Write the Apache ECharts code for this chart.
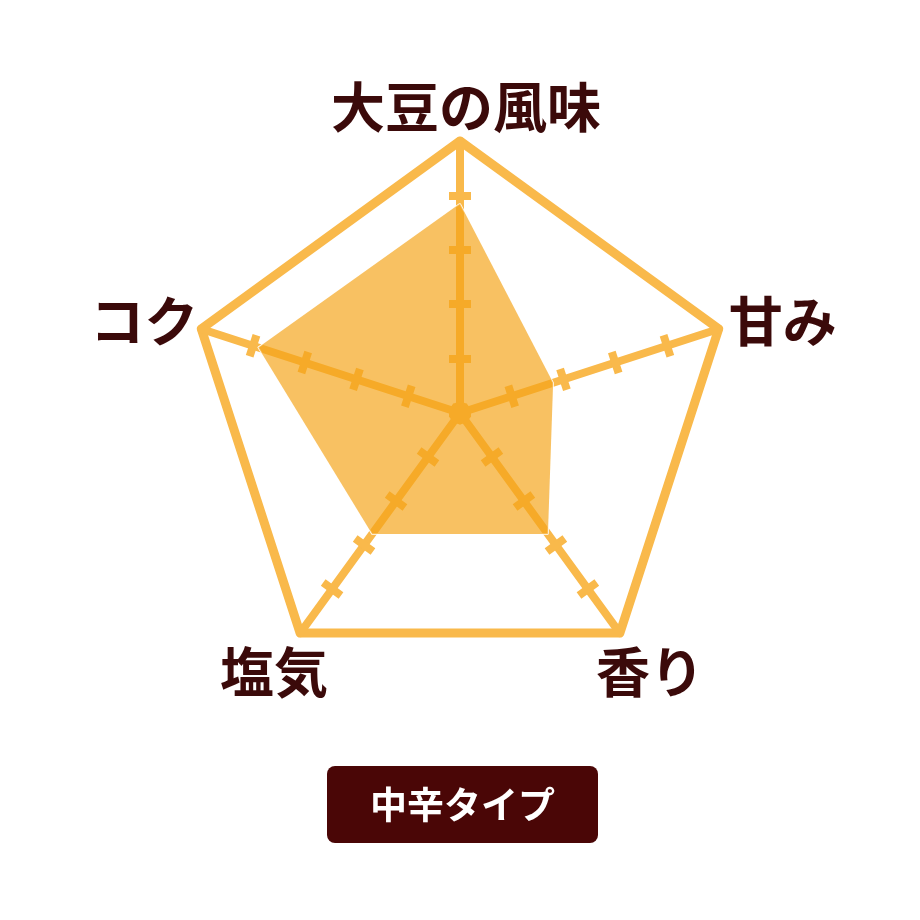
<!DOCTYPE html>
<html>
<head>
<meta charset="utf-8">
<script src="https://cdn.jsdelivr.net/npm/echarts@6/dist/echarts.min.js"></script>
<style>
html,body{margin:0;padding:0;background:#fff;}
#chart{width:920px;height:920px;}
</style>
</head>
<body>
<div id="chart"></div>
<script>
// Data (clockwise from the top)
const indicatorNames = ['大豆の風味', '甘み', '香り', '塩気', 'コク'];
const indicatorMax = [5, 5, 5, 5, 5];
const seriesValues = [3.85, 1.8, 2.75, 2.75, 3.9];
const tickValues = [1, 2, 3, 4];
const badgeText = '中辛タイプ';

// Label nudges (style only): padding [top, right, bottom, left]
const labelPadding = [
  [0, 0, 68, 12],
  [0, 0, 14, 128],
  [78, 0, 0, 60],
  [78, 52, 0, 0],
  [0, 114, 14, 0]
];

const AXIS_COLOR = '#F9B94B';
const TEXT_COLOR = '#3b0a0a';
const FONT = '"Noto Sans CJK JP", "Noto Sans", sans-serif';
const CENTER = [460, 413];
const RADIUS = 272;

// ECharts radar runs counter-clockwise: keep the first, reverse the rest
const order = [0].concat(indicatorNames.map((_, i) => i).slice(1).reverse());
const indicators = order.map(i => ({ name: indicatorNames[i], min: 0, max: indicatorMax[i] }));
const values = order.map(i => seriesValues[i]);
// Tick radars span only up to the last inner tick value
const lastTick = tickValues[tickValues.length - 1];
const tickIndicators = order.map(i => ({ name: indicatorNames[i], min: 0, max: lastTick }));
const tickRadius = RADIUS * lastTick / indicatorMax[0];

const rich = {};
indicatorNames.forEach((n, i) => {
  rich['s' + i] = {
    color: TEXT_COLOR, fontSize: 54, fontWeight: 'bold', fontFamily: FONT,
    padding: labelPadding[i]
  };
});

function tickRadar(len) {
  return {
    center: CENTER,
    radius: tickRadius,
    startAngle: 90,
    shape: 'polygon',
    splitNumber: tickValues.length,
    indicator: tickIndicators,
    axisName: { show: false },
    axisLine: { show: false },
    axisTick: { show: true, length: len, lineStyle: { color: AXIS_COLOR, width: 8 } },
    axisLabel: { show: false },
    splitLine: { show: false },
    splitArea: { show: false }
  };
}

const chart = echarts.init(document.getElementById('chart'));
chart.setOption({
  backgroundColor: '#ffffff',
  animation: false,
  radar: [
    {
      center: CENTER,
      radius: RADIUS,
      startAngle: 90,
      shape: 'polygon',
      splitNumber: 5,
      indicator: indicators,
      nameGap: 0,
      axisName: {
        color: TEXT_COLOR,
        fontSize: 54,
        fontWeight: 'bold',
        fontFamily: FONT,
        align: 'center',
        verticalAlign: 'middle',
        formatter: (name) => '{s' + indicatorNames.indexOf(name) + '|' + name + '}',
        rich: rich
      },
      axisLine: { lineStyle: { color: AXIS_COLOR, width: 8 } },
      axisTick: { show: false },
      axisLabel: { show: false },
      splitArea: { show: false },
      splitLine: {
        show: true,
        lineStyle: {
          color: ['rgba(0,0,0,0)', 'rgba(0,0,0,0)', 'rgba(0,0,0,0)', 'rgba(0,0,0,0)', 'rgba(0,0,0,0)', AXIS_COLOR],
          width: 9,
          join: 'round',
          cap: 'round'
        }
      }
    },
    tickRadar(11),
    tickRadar(-11)
  ],
  series: [{
    type: 'radar',
    radarIndex: 0,
    symbol: 'none',
    lineStyle: { color: '#ffffff', width: 1.5 },
    areaStyle: { color: '#F5A417', opacity: 0.68 },
    data: [{ value: values, name: badgeText }]
  }],
  graphic: [{
    type: 'group',
    left: 327,
    top: 766,
    children: [
      { type: 'rect', shape: { x: 0, y: 0, width: 271, height: 77, r: 8 }, style: { fill: '#4a0606' } },
      { type: 'text', x: 135.5, y: 38.5, style: { text: badgeText, fill: '#ffffff', font: 'bold 37px ' + FONT, align: 'center', verticalAlign: 'middle' } }
    ]
  }]
});
</script>
</body>
</html>
